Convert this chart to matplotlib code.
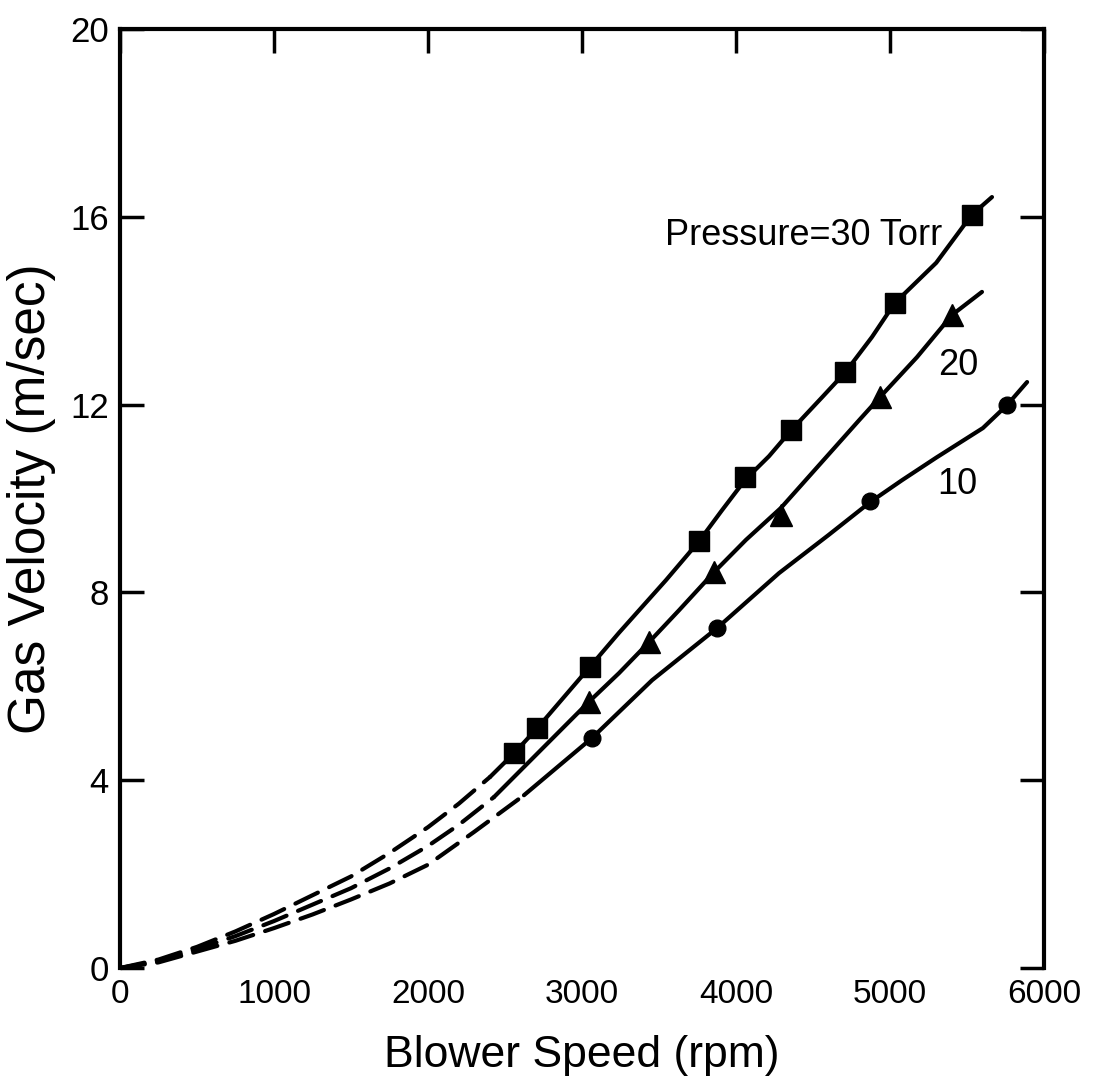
import matplotlib
matplotlib.use("Agg")
import matplotlib.pyplot as plt

# ---- data ----
# markers
sq_x = [2560, 2710, 3050, 3760, 4060, 4360, 4710, 5030, 5530]
sq_y = [4.58, 5.11, 6.41, 9.09, 10.46, 11.46, 12.69, 14.16, 16.04]
tri_x = [3045, 3435, 3857, 4292, 4935, 5403]
tri_y = [5.67, 6.94, 8.43, 9.65, 12.16, 13.91]
cir_x = [3065, 3877, 4870, 5760]
cir_y = [4.90, 7.24, 9.95, 11.99]

# solid fitted curves
sq_line_x = [2403, 2560, 2710, 3050, 3240, 3545, 3760, 3909, 4060, 4214, 4360,
             4560, 4710, 4883, 5030, 5300, 5530, 5662]
sq_line_y = [4.07, 4.58, 5.11, 6.41, 7.14, 8.26, 9.09, 9.75, 10.40, 10.90, 11.46,
             12.16, 12.69, 13.44, 14.16, 15.02, 16.04, 16.42]
tri_line_x = [2428, 3045, 3240, 3435, 3630, 3857, 4065, 4292, 4550, 4800, 4935,
              5175, 5403, 5597]
tri_line_y = [3.64, 5.67, 6.28, 6.94, 7.62, 8.43, 9.12, 9.80, 10.75, 11.67, 12.16,
              13.01, 13.91, 14.40]
cir_line_x = [2623, 3065, 3455, 3877, 4279, 4600, 4870, 5078, 5300, 5603, 5760, 5890]
cir_line_y = [3.68, 4.90, 6.13, 7.24, 8.41, 9.22, 9.92, 10.39, 10.87, 11.50, 11.99, 12.48]

# dashed extrapolations toward the origin
sq_dash_x = [0, 250, 500, 750, 1000, 1250, 1500, 1750, 2000, 2200, 2403]
sq_dash_y = [0, 0.18, 0.45, 0.78, 1.15, 1.55, 1.95, 2.45, 3.00, 3.50, 4.07]
tri_dash_x = [0, 250, 500, 750, 1000, 1250, 1500, 1750, 2000, 2200, 2428]
tri_dash_y = [0, 0.15, 0.40, 0.68, 1.00, 1.35, 1.70, 2.12, 2.60, 3.05, 3.64]
cir_dash_x = [0, 250, 500, 750, 1000, 1250, 1500, 1750, 2000, 2300, 2623]
cir_dash_y = [0, 0.12, 0.35, 0.58, 0.85, 1.14, 1.46, 1.80, 2.20, 2.90, 3.68]

x_ticks = [0, 1000, 2000, 3000, 4000, 5000, 6000]
y_ticks = [0, 4, 8, 12, 16, 20]

plt.rcParams['font.family'] = ['Liberation Sans', 'DejaVu Sans']

fig = plt.figure(figsize=(11.02, 10.89), dpi=100)
ax = fig.add_axes([0.1089, 0.1111, 0.8385, 0.8623])

lw = 3.0
for lx, ly in [(sq_line_x, sq_line_y), (tri_line_x, tri_line_y), (cir_line_x, cir_line_y)]:
    ax.plot(lx, ly, color='black', lw=lw, solid_capstyle='round',
            solid_joinstyle='round')
for dx, dy in [(sq_dash_x, sq_dash_y), (tri_dash_x, tri_dash_y), (cir_dash_x, cir_dash_y)]:
    ax.plot(dx, dy, color='black', lw=lw, dashes=(6, 3.0), dash_capstyle='round')

ax.plot(sq_x, sq_y, 's', color='black', ms=15, ls='none')
ax.plot(tri_x, tri_y, '^', color='black', ms=16, ls='none')
ax.plot(cir_x, cir_y, 'o', color='black', ms=12, ls='none')

ax.set_xlim(0, 6000)
ax.set_ylim(0, 20)

ax.text(3539, 15.61, 'Pressure=30 Torr', fontsize=26, va='center', ha='left')
ax.text(5312, 12.84, '20', fontsize=26, va='center', ha='left')
ax.text(5305, 10.29, '10', fontsize=26, va='center', ha='left')

ax.set_xticks(x_ticks)
ax.set_yticks(y_ticks)
ax.set_xticklabels([str(v) for v in x_ticks], fontsize=24)
ax.set_yticklabels([str(v) for v in y_ticks], fontsize=25)
ax.tick_params(axis='both', direction='in', length=17, width=2.5,
               top=True, right=True, bottom=False, left=True, pad=8)
for s in ['left', 'right', 'top']:
    ax.spines[s].set_linewidth(3)
ax.spines['bottom'].set_visible(False)

ax.set_xlabel('Blower Speed (rpm)', fontsize=32, labelpad=18)
ax.set_ylabel('Gas Velocity (m/sec)', fontsize=37, labelpad=10)

fig.savefig('out.png', dpi=100)
